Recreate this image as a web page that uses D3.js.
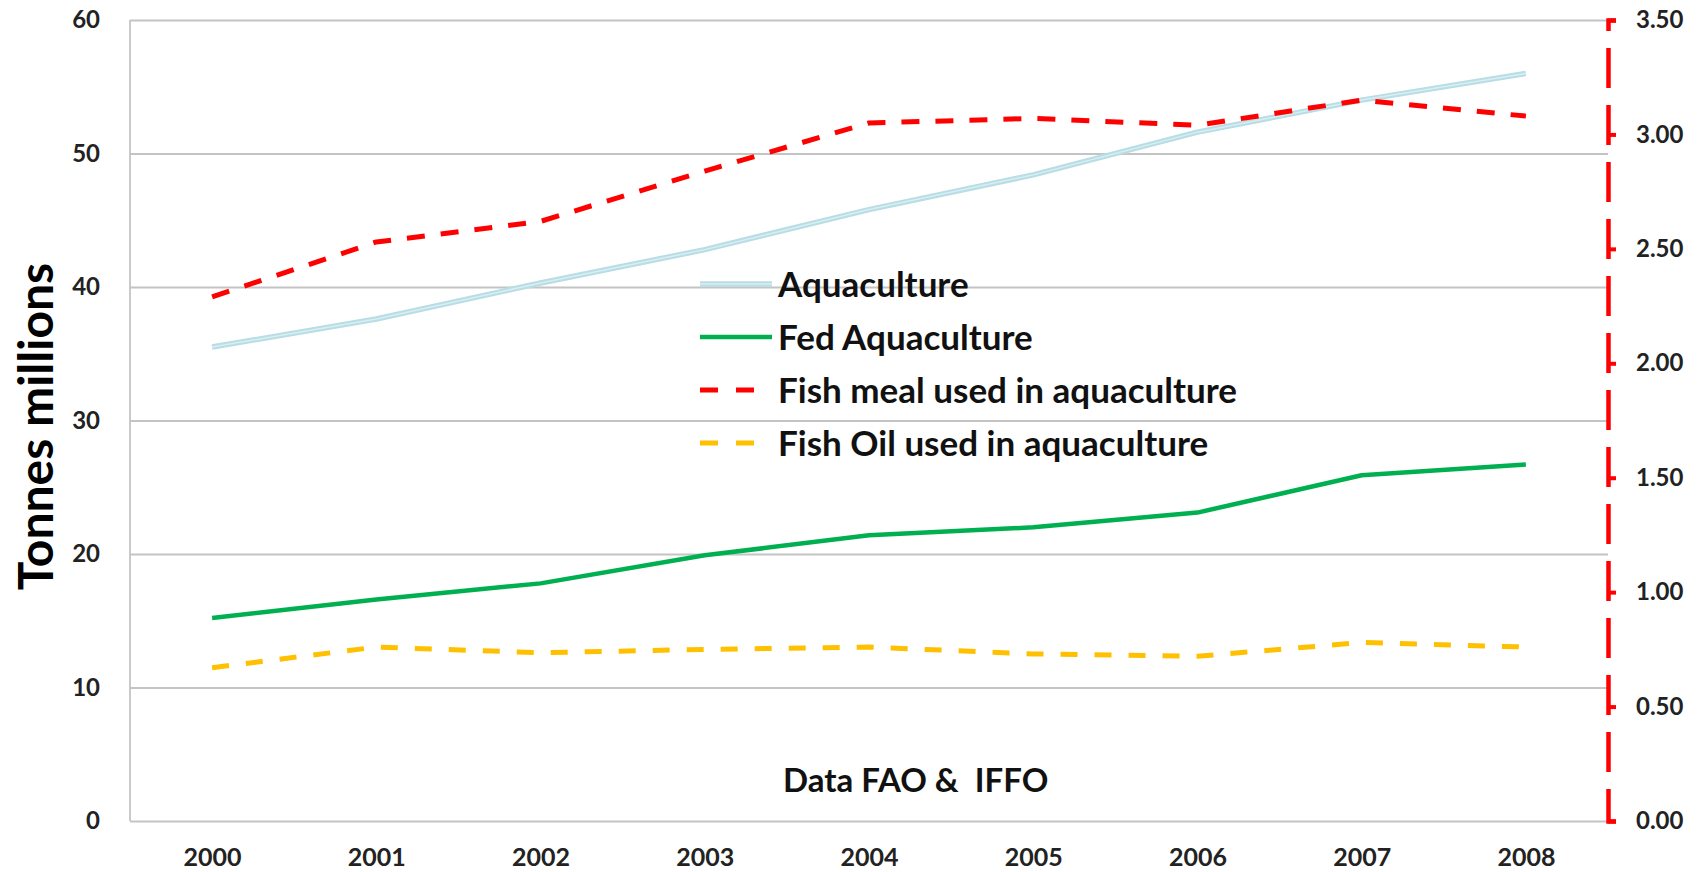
<!DOCTYPE html>
<html>
<head>
<meta charset="utf-8">
<script src="https://cdn.jsdelivr.net/npm/d3@7"></script>
<style>
  html, body { margin: 0; padding: 0; background: #fff; }
  svg { display: block; }
  text { font-family: Lato, "Open Sans", sans-serif; font-weight: 700; }
</style>
</head>
<body>
<svg id="chart" width="1697" height="872"></svg>
<script>
// ---- Data ----
const years = ["2000", "2001", "2002", "2003", "2004", "2005", "2006", "2007", "2008"];
// left axis, tonnes millions
const aquaculture    = [35.5, 37.6, 40.3, 42.8, 45.8, 48.4, 51.6, 54.0, 56.0];
const fedAquaculture = [15.2, 16.6, 17.8, 19.9, 21.4, 22.0, 23.1, 25.9, 26.7];
// right axis, tonnes millions
const fishMeal = [2.29, 2.53, 2.62, 2.84, 3.05, 3.07, 3.04, 3.15, 3.08];
const fishOil  = [0.67, 0.76, 0.735, 0.75, 0.76, 0.73, 0.72, 0.78, 0.76];
const leftTicks  = [0, 10, 20, 30, 40, 50, 60];
const rightTicks = [0, 0.5, 1.0, 1.5, 2.0, 2.5, 3.0, 3.5];
const seriesNames = ["Aquaculture", "Fed Aquaculture", "Fish meal used in aquaculture", "Fish Oil used in aquaculture"];
const yTitle = "Tonnes millions";
const sourceNote = "Data FAO &  IFFO";

// ---- Layout ----
const W = 1697, H = 872;
const m = { top: 20, right: 89, bottom: 51, left: 130 };
const svg = d3.select("#chart");

const x = d3.scalePoint().domain(years).range([m.left, W - m.right]).padding(0.5);
const yL = d3.scaleLinear().domain([0, 60]).range([H - m.bottom, m.top]);
const yR = d3.scaleLinear().domain([0, 3.5]).range([H - m.bottom, m.top]);

// gridlines
svg.append("g")
  .attr("transform", `translate(${m.left},0)`)
  .call(d3.axisLeft(yL).tickValues(leftTicks).tickSize(-(W - m.left - m.right)).tickFormat(""))
  .call(g => g.select(".domain").remove())
  .call(g => g.selectAll(".tick line").attr("stroke", "#c4c4c4").attr("stroke-width", 1.8));

// left axis line
svg.append("line")
  .attr("x1", m.left).attr("x2", m.left)
  .attr("y1", yL(0)).attr("y2", yL(60))
  .attr("stroke", "#c4c4c4").attr("stroke-width", 1.8);

// left tick labels
svg.append("g")
  .attr("transform", `translate(${m.left},0)`)
  .call(d3.axisLeft(yL).tickValues(leftTicks).tickSize(0).tickPadding(30).tickFormat(d3.format("d")))
  .call(g => g.select(".domain").remove())
  .call(g => g.selectAll("text").attr("font-size", 24).attr("fill", "#222")
    .style("font-family", "Lato").style("font-weight", 700));

// x axis labels
svg.append("g")
  .attr("transform", `translate(0,${H - m.bottom})`)
  .call(d3.axisBottom(x).tickSize(0).tickPadding(27))
  .call(g => g.select(".domain").remove())
  .call(g => g.selectAll("text").attr("font-size", 25).attr("fill", "#222")
    .style("font-family", "Lato").style("font-weight", 700));

// right axis (red dashed)
const rAxis = svg.append("g")
  .attr("transform", `translate(${W - m.right},0)`)
  .call(d3.axisRight(yR).tickValues(rightTicks).tickSize(8).tickSizeOuter(8).tickPadding(20).tickFormat(d3.format(".2f")));
rAxis.select(".domain")
  .attr("stroke", "#ff0000").attr("stroke-width", 4.5)
  .attr("stroke-dasharray", "40,17").attr("fill", "none");
rAxis.selectAll(".tick line").attr("stroke", "#ff0000").attr("stroke-width", 4);
rAxis.selectAll("text").attr("font-size", 24).attr("fill", "#222")
  .style("font-family", "Lato").style("font-weight", 700);

// lines
const lineL = d3.line().x((d, i) => x(years[i])).y(d => yL(d));
const lineR = d3.line().x((d, i) => x(years[i])).y(d => yR(d));

const plot = svg.append("g").attr("fill", "none").attr("stroke-linejoin", "round");

plot.append("path").datum(fishOil).attr("d", lineR)
  .attr("stroke", "#ffc000").attr("stroke-width", 5).attr("stroke-dasharray", "17,17");
plot.append("path").datum(fedAquaculture).attr("d", lineL)
  .attr("stroke", "#00b050").attr("stroke-width", 4.5);
plot.append("path").datum(aquaculture).attr("d", lineL)
  .attr("stroke", "#b8dde5").attr("stroke-width", 5.5);
plot.append("path").datum(aquaculture).attr("d", lineL)
  .attr("stroke", "#d9eef2").attr("stroke-width", 1.5);
plot.append("path").datum(fishMeal).attr("d", lineR)
  .attr("stroke", "#ff0000").attr("stroke-width", 5).attr("stroke-dasharray", "18,16");

// y title
svg.append("text")
  .attr("transform", `translate(53,${(yL(0) + yL(60)) / 2 + 6}) rotate(-90)`)
  .attr("text-anchor", "middle")
  .attr("font-size", 48).attr("fill", "#000")
  .text(yTitle);

// legend (transparent background)
const legendStyles = [
  { stroke: "#b8dde5", width: 5.5, dash: null, inner: "#d9eef2" },
  { stroke: "#00b050", width: 4.5, dash: null },
  { stroke: "#ff0000", width: 5, dash: "18,18" },
  { stroke: "#ffc000", width: 5, dash: "18,18" }
];
const legend = svg.append("g").attr("transform", "translate(700,284)");
const rows = legend.selectAll("g").data(seriesNames).join("g")
  .attr("transform", (d, i) => `translate(0,${i * 53})`);
rows.append("line").attr("x1", 0).attr("x2", 72).attr("y1", 0).attr("y2", 0)
  .attr("stroke", (d, i) => legendStyles[i].stroke)
  .attr("stroke-width", (d, i) => legendStyles[i].width)
  .attr("stroke-dasharray", (d, i) => legendStyles[i].dash);
rows.filter((d, i) => legendStyles[i].inner).append("line")
  .attr("x1", 0).attr("x2", 72).attr("y1", 0).attr("y2", 0)
  .attr("stroke", "#d9eef2").attr("stroke-width", 1.5);
rows.append("text").attr("x", 78).attr("dy", "0.36em")
  .attr("font-size", 35).attr("fill", "#111")
  .text(d => d);

// source note
svg.append("text")
  .attr("x", 783).attr("y", 792)
  .attr("font-size", 33).attr("fill", "#111")
  .style("white-space", "pre")
  .text(sourceNote);
</script>
</body>
</html>
